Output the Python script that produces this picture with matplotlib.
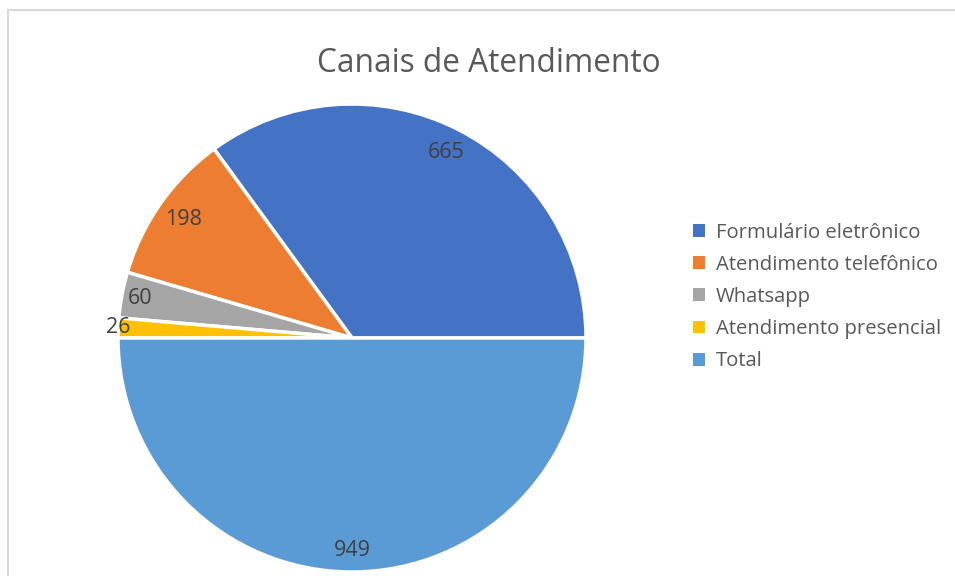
import numpy as np
import matplotlib
matplotlib.use("Agg")
import matplotlib.pyplot as plt
from matplotlib.lines import Line2D
from matplotlib.patches import Patch

plt.rcParams['font.family'] = ['Open Sans', 'DejaVu Sans']

categories = ["Formulário eletrônico", "Atendimento telefônico", "Whatsapp",
              "Atendimento presencial", "Total"]
values = [665, 198, 60, 26, 949]
colors = ["#4472C4", "#ED7D31", "#A5A5A5", "#FFC000", "#5B9BD5"]
title = "Canais de Atendimento"

fig = plt.figure(figsize=(9.55, 5.76), dpi=100)
W, H = 955, 576

# border lines (top and left)
fig.add_artist(Line2D([8 / W, 1], [1 - 10 / H, 1 - 10 / H], color="#d9d9d9", lw=1.5))
fig.add_artist(Line2D([8 / W, 8 / W], [0, 1 - 10 / H], color="#d9d9d9", lw=1.5))

cx, cy, r = 352, 338, 234
ax = fig.add_axes([(cx - r) / W, 1 - (cy + r) / H, 2 * r / W, 2 * r / H])
wedges, _ = ax.pie(values, colors=colors, startangle=0, counterclock=True,
                   radius=1.0, wedgeprops=dict(edgecolor="white", linewidth=2.5))
ax.set_xlim(-1, 1)
ax.set_ylim(-1, 1)
ax.set_aspect("equal")
ax.axis("off")

label_dist = [0.89, 0.88, 0.92, 1.0, 0.91]
for w, v, d in zip(wedges, values, label_dist):
    ang = np.deg2rad((w.theta1 + w.theta2) / 2)
    ax.text(d * np.cos(ang), d * np.sin(ang), str(v), ha="center", va="center",
            fontsize=15.5, color="#404040")

fig.text(489 / W, 1 - 63 / H, title, ha="center", va="center",
         fontsize=22.8, color="#595959")

handles = [Patch(facecolor=c, edgecolor="none") for c in colors]
leg = fig.legend(handles, categories, loc="center left",
                 bbox_to_anchor=(675 / W, 1 - 297 / H), frameon=False,
                 fontsize=14.6, handlelength=0.6, handleheight=0.6,
                 handletextpad=0.5, labelspacing=0.6, labelcolor="#595959",
                 borderpad=0.4)

fig.savefig("out.png", dpi=100, facecolor="white")
